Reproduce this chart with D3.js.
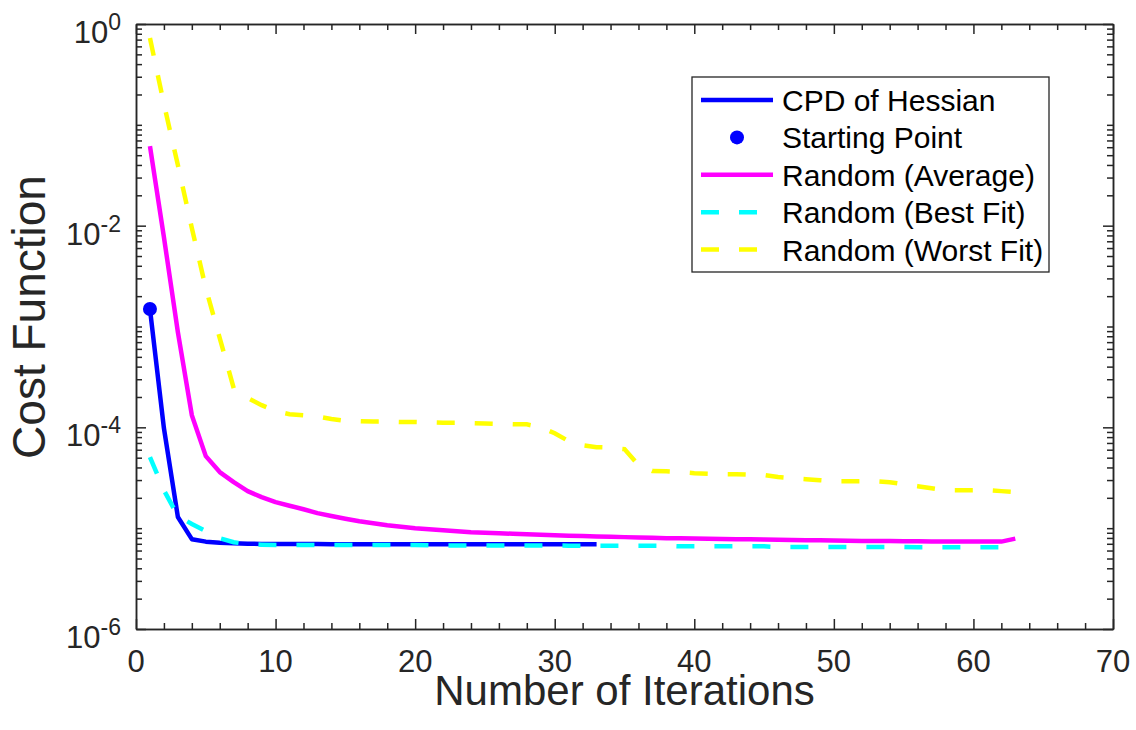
<!DOCTYPE html>
<html>
<head>
<meta charset="utf-8">
<script src="https://cdn.jsdelivr.net/npm/d3@7"></script>
<style>
    body { margin: 0; background: #fff; }
    text { font-family: "Liberation Sans", Arial, sans-serif; }
</style>
</head>
<body>
<div id="chart-area"></div>
<script>
// cost per iteration (iteration = index + 1)
var cpdHessian = [1.49e-3, 9.8e-5, 1.29e-5, 7.78e-6, 7.35e-6, 7.18e-6, 7.10e-6, 7.02e-6, 6.98e-6, 6.96e-6,
    6.95e-6, 6.95e-6, 6.95e-6, 6.94e-6, 6.94e-6, 6.94e-6, 6.94e-6, 6.94e-6, 6.94e-6, 6.94e-6,
    6.93e-6, 6.93e-6, 6.93e-6, 6.93e-6, 6.93e-6, 6.93e-6, 6.93e-6, 6.92e-6, 6.92e-6, 6.92e-6,
    6.92e-6, 6.92e-6, 6.92e-6];

var randomAverage = [6.16e-2, 7.70e-3, 8.80e-4, 1.32e-4, 5.18e-5, 3.60e-5, 2.86e-5, 2.33e-5, 2.03e-5, 1.81e-5,
    1.67e-5, 1.54e-5, 1.41e-5, 1.32e-5, 1.24e-5, 1.17e-5, 1.12e-5, 1.07e-5, 1.035e-5, 1.00e-5,
    9.77e-6, 9.55e-6, 9.33e-6, 9.12e-6, 9.01e-6, 8.91e-6, 8.80e-6, 8.71e-6, 8.61e-6, 8.53e-6,
    8.43e-6, 8.34e-6, 8.28e-6, 8.22e-6, 8.15e-6, 8.09e-6, 8.03e-6, 7.96e-6, 7.93e-6, 7.89e-6,
    7.85e-6, 7.82e-6, 7.78e-6, 7.75e-6, 7.71e-6, 7.67e-6, 7.64e-6, 7.60e-6, 7.57e-6, 7.53e-6,
    7.50e-6, 7.48e-6, 7.46e-6, 7.44e-6, 7.42e-6, 7.40e-6, 7.39e-6, 7.38e-6, 7.37e-6, 7.36e-6,
    7.36e-6, 7.36e-6, 7.87e-6];

var randomBest = [5.06e-5, 2.38e-5, 1.32e-5, 1.10e-5, 9.33e-6, 7.96e-6, 7.26e-6, 6.94e-6, 6.86e-6, 6.80e-6,
    6.80e-6, 6.80e-6, 6.80e-6, 6.80e-6, 6.80e-6, 6.80e-6, 6.80e-6, 6.80e-6, 6.80e-6, 6.80e-6,
    6.75e-6, 6.75e-6, 6.75e-6, 6.75e-6, 6.75e-6, 6.75e-6, 6.75e-6, 6.75e-6, 6.75e-6, 6.75e-6,
    6.70e-6, 6.70e-6, 6.70e-6, 6.70e-6, 6.70e-6, 6.70e-6, 6.70e-6, 6.70e-6, 6.60e-6, 6.60e-6,
    6.60e-6, 6.60e-6, 6.60e-6, 6.60e-6, 6.60e-6, 6.50e-6, 6.50e-6, 6.50e-6, 6.50e-6, 6.50e-6,
    6.50e-6, 6.50e-6, 6.50e-6, 6.50e-6, 6.50e-6, 6.45e-6, 6.45e-6, 6.45e-6, 6.45e-6, 6.45e-6,
    6.45e-6, 6.45e-6, 6.45e-6];

var randomWorst = [0.726, 0.161, 3.99e-2, 9.47e-3, 2.40e-3, 7.67e-4, 2.45e-4, 1.95e-4, 1.66e-4, 1.45e-4,
    1.35e-4, 1.32e-4, 1.28e-4, 1.21e-4, 1.16e-4, 1.15e-4, 1.14e-4, 1.14e-4, 1.13e-4, 1.13e-4,
    1.12e-4, 1.11e-4, 1.11e-4, 1.10e-4, 1.09e-4, 1.08e-4, 1.07e-4, 1.07e-4, 1.00e-4, 8.75e-5,
    7.29e-5, 6.65e-5, 6.36e-5, 6.29e-5, 6.08e-5, 4.22e-5, 3.68e-5, 3.66e-5, 3.60e-5, 3.51e-5,
    3.47e-5, 3.43e-5, 3.43e-5, 3.39e-5, 3.36e-5, 3.21e-5, 3.13e-5, 3.06e-5, 2.99e-5, 2.92e-5,
    2.92e-5, 2.92e-5, 2.92e-5, 2.86e-5, 2.73e-5, 2.61e-5, 2.49e-5, 2.38e-5, 2.38e-5, 2.38e-5,
    2.38e-5, 2.33e-5, 2.28e-5];

var startIter = [1];
var startCost = [1.49e-3];

var xTicks = [0, 10, 20, 30, 40, 50, 60, 70];
var yTickExp = [0, -2, -4, -6];

var legendLabels = ["CPD of Hessian", "Starting Point", "Random (Average)", "Random (Best Fit)", "Random (Worst Fit)"];

var width = 1136, height = 730;
var margin = { left: 136, right: 23, top: 24, bottom: 101 };
var axisColor = "#262626";
var lw = 4.5;

var svg = d3.select("#chart-area")
    .append("svg")
    .attr("width", width)
    .attr("height", height)
    .style("background", "#fff");

var x = d3.scaleLinear().domain([0, 70]).range([margin.left, width - margin.right]);
var y = d3.scaleLog().domain([1e-6, 1]).range([height - margin.bottom, margin.top]);

// minor tick values
var xMinor = d3.range(0, 71, 2).filter(function (v) { return v % 10 !== 0; });
var yMinor = [];
for (var e = -6; e < 0; e++) {
    for (var k = 1; k < 10; k++) {
        var v = k * Math.pow(10, e);
        if (!(k === 1 && e % 2 === 0)) yMinor.push(v);
    }
}
var yMajor = yTickExp.map(function (p) { return Math.pow(10, p); });

function styleAxis(sel) {
    sel.selectAll("path").attr("stroke", axisColor).attr("stroke-width", 1.5);
    sel.selectAll("line").attr("stroke", axisColor).attr("stroke-width", 1.5);
    sel.selectAll("text").remove();
}

var plotB = height - margin.bottom, plotR = width - margin.right;

// major + minor ticks, all four sides, pointing inward
[[d3.axisBottom(x), plotB], [d3.axisTop(x), margin.top]].forEach(function (a) {
    svg.append("g").attr("transform", "translate(0," + a[1] + ")")
        .call(a[0].tickValues(xTicks).tickSize(-10).tickSizeOuter(0).tickFormat(""))
        .call(styleAxis);
});
[[d3.axisBottom(x), plotB], [d3.axisTop(x), margin.top]].forEach(function (a) {
    svg.append("g").attr("transform", "translate(0," + a[1] + ")")
        .call(a[0].tickValues(xMinor).tickSize(-6).tickSizeOuter(0).tickFormat(""))
        .call(styleAxis);
});
[[d3.axisLeft(y), margin.left], [d3.axisRight(y), plotR]].forEach(function (a) {
    svg.append("g").attr("transform", "translate(" + a[1] + ",0)")
        .call(a[0].tickValues(yMajor).tickSize(-10).tickSizeOuter(0).tickFormat(""))
        .call(styleAxis);
});
[[d3.axisLeft(y), margin.left], [d3.axisRight(y), plotR]].forEach(function (a) {
    svg.append("g").attr("transform", "translate(" + a[1] + ",0)")
        .call(a[0].tickValues(yMinor).tickSize(-6).tickSizeOuter(0).tickFormat(""))
        .call(styleAxis);
});

// tick labels
svg.append("g").selectAll("text")
    .data(xTicks)
    .enter()
    .append("text")
    .attr("x", function (d) { return x(d); })
    .attr("y", plotB + 43)
    .attr("text-anchor", "middle")
    .attr("font-size", 31)
    .attr("fill", axisColor)
    .text(function (d) { return d; });

var yLab = svg.append("g").selectAll("text")
    .data(yTickExp)
    .enter()
    .append("text")
    .attr("x", margin.left - 15)
    .attr("y", function (d) { return y(Math.pow(10, d)) + 19; })
    .attr("text-anchor", "end")
    .attr("font-size", 31)
    .attr("fill", axisColor);
yLab.append("tspan").text("10");
yLab.append("tspan")
    .attr("dy", -13)
    .attr("font-size", 23)
    .text(function (d) { return d === 0 ? "0" : "-" + Math.abs(d); });

// axis titles
svg.append("text")
    .attr("x", (margin.left + plotR) / 2)
    .attr("y", 705)
    .attr("text-anchor", "middle")
    .attr("font-size", 42)
    .attr("fill", axisColor)
    .text("Number of Iterations");

svg.append("text")
    .attr("transform", "translate(45,317) rotate(-90)")
    .attr("text-anchor", "middle")
    .attr("font-size", 46)
    .attr("fill", axisColor)
    .text("Cost Function");

// series
var line = d3.line()
    .x(function (d, i) { return x(i + 1); })
    .y(function (d) { return y(d); });

svg.append("path").datum(cpdHessian)
    .attr("d", line)
    .attr("fill", "none").attr("stroke", "#0000ff").attr("stroke-width", lw)
    .attr("stroke-linejoin", "round");

svg.selectAll(".start")
    .data(startCost)
    .enter()
    .append("circle")
    .attr("cx", function (d, i) { return x(startIter[i]); })
    .attr("cy", function (d) { return y(d); })
    .attr("r", 7)
    .attr("fill", "#0000ff");

svg.append("path").datum(randomAverage)
    .attr("d", line)
    .attr("fill", "none").attr("stroke", "#ff00ff").attr("stroke-width", lw)
    .attr("stroke-linejoin", "round");

svg.append("path").datum(randomBest)
    .attr("d", line)
    .attr("fill", "none").attr("stroke", "#00ffff").attr("stroke-width", lw)
    .attr("stroke-dasharray", "18,20");

svg.append("path").datum(randomWorst)
    .attr("d", line)
    .attr("fill", "none").attr("stroke", "#ffff00").attr("stroke-width", lw)
    .attr("stroke-dasharray", "18,20");

// legend
var lg = svg.append("g");
lg.append("rect")
    .attr("x", 692).attr("y", 77).attr("width", 357).attr("height", 195)
    .attr("fill", "#fff").attr("stroke", axisColor).attr("stroke-width", 1.3);

var legendStyle = [
    { color: "#0000ff", type: "line" },
    { color: "#0000ff", type: "dot" },
    { color: "#ff00ff", type: "line" },
    { color: "#00ffff", type: "dash" },
    { color: "#ffff00", type: "dash" }
];

legendLabels.forEach(function (label, i) {
    var ly = 100 + i * 37.4;
    var s = legendStyle[i];
    if (s.type === "dot") {
        lg.append("circle").attr("cx", 737).attr("cy", ly).attr("r", 7).attr("fill", s.color);
    } else {
        lg.append("line")
            .attr("x1", 701).attr("x2", 773).attr("y1", ly).attr("y2", ly)
            .attr("stroke", s.color).attr("stroke-width", lw)
            .attr("stroke-dasharray", s.type === "dash" ? "18,20" : null);
    }
    lg.append("text")
        .attr("x", 782)
        .attr("y", ly + 11)
        .attr("font-size", 30)
        .attr("fill", "#000")
        .text(label);
});
</script>
</body>
</html>
